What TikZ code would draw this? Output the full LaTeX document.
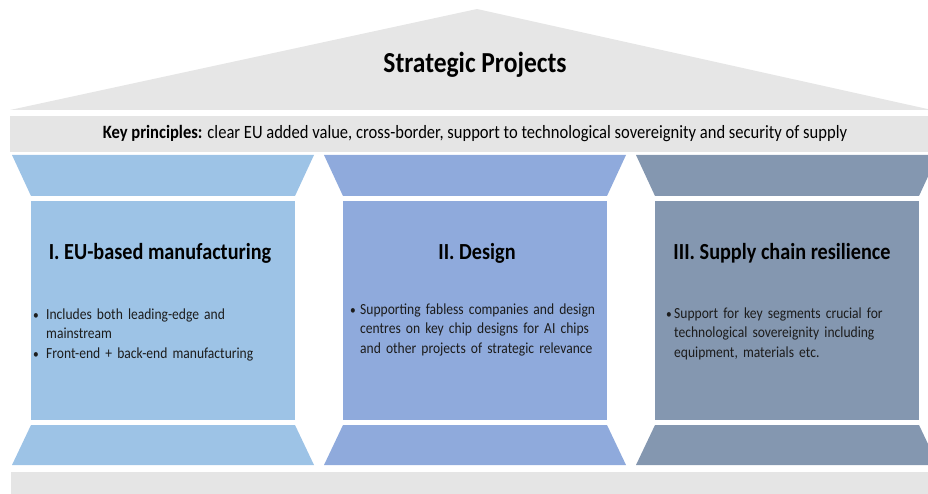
\documentclass[tikz,border=0pt]{standalone}
\usepackage{fontspec}
\setmainfont{Carlito}[FakeStretch=0.88]
\usepackage{xcolor}
\usepackage{tikz}
\definecolor{roof}{HTML}{E6E6E6}
\definecolor{band}{HTML}{E5E5E5}
\definecolor{manuf}{HTML}{9DC3E6}
\definecolor{design}{HTML}{8FAADC}
\definecolor{supply}{HTML}{8497B0}
\definecolor{ink}{HTML}{000000}
\definecolor{body}{HTML}{1C1C1C}
\tikzset{
  title/.style={text=ink, font=\fontsize{29}{33}\selectfont\bfseries, anchor=base, inner sep=0pt},
  keyline/.style={text=ink, font=\fontsize{18.8}{22}\selectfont, anchor=base, inner sep=0pt},
  head/.style={text=ink, font=\fontsize{23}{27}\selectfont\bfseries, anchor=base, inner sep=0pt},
  dot/.style={text=body, font=\fontsize{13}{15}\selectfont, anchor=base, inner sep=0pt},
  txt/.style={text=body, font=\fontsize{15.4}{19.5}\selectfont, anchor=base west, inner sep=0pt,
    text width=260pt, align=left},
}

\begin{document}
\begin{tikzpicture}[x=1pt,y=-1pt]
  \useasboundingbox (0,0) rectangle (928,494);
  % roof, key principles band and floor
  \fill[roof] (10,110) -- (477,9) -- (932,110) -- cycle;
  \fill[band] (10,116) rectangle (928,152);
  \fill[band] (11,472) rectangle (928,494);
  % pillar I
  \fill[manuf] (12,155) -- (314,155) -- (295,196) -- (31,196) -- cycle;
  \fill[manuf] (31,201) rectangle (295,420);
  \fill[manuf] (31,425) -- (295,425) -- (314,465) -- (12,465) -- cycle;
  % pillar II
  \fill[design] (324,155) -- (626,155) -- (607,196) -- (343,196) -- cycle;
  \fill[design] (343,201) rectangle (607,420);
  \fill[design] (343,425) -- (607,425) -- (626,465) -- (324,465) -- cycle;
  % pillar III
  \fill[supply] (636,155) -- (938,155) -- (919,196) -- (655,196) -- cycle;
  \fill[supply] (655,201) rectangle (919,420);
  \fill[supply] (655,425) -- (919,425) -- (938,465) -- (636,465) -- cycle;

  \node[title] (sp) at (475,73) {Strategic Projects};
  \node[keyline] (kp) at (475,139) {\textbf{Key principles:} clear EU added value, cross-border, support to technological sovereignity and security of supply};

  \node[head] (h1) at (160,259) {I. EU-based manufacturing};
  \node[head] (h2) at (477,259) {II. Design};
  \node[head] (h3) at (782,259) {III. Supply chain resilience};

  \node[dot] (d1a) at (36,319) {\textbullet};
  \node[txt] (t1a) at (46,319) {Includes both leading-edge and\\mainstream};
  \node[dot] (d1b) at (36,358) {\textbullet};
  \node[txt] (t1b) at (46,358) {Front-end + back-end manufacturing};

  \node[dot] (d2a) at (353,314) {\textbullet};
  \node[txt] (t2a) at (360,314) {Supporting fabless companies and design\\centres on key chip designs for AI chips\\and other projects of strategic relevance};

  \node[dot] (d3a) at (669,318) {\textbullet};
  \node[txt] (t3a) at (674,318) {Support for key segments crucial for\\technological sovereignity including\\equipment, materials etc.};
\end{tikzpicture}
\end{document}
